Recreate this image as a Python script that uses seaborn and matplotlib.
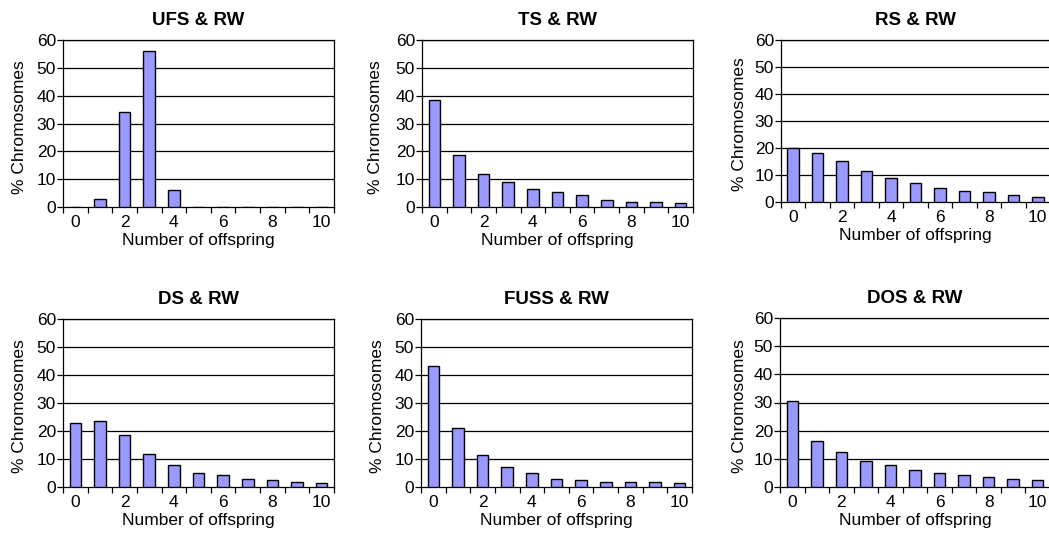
import pandas as pd
import matplotlib
matplotlib.use('Agg')
import matplotlib.pyplot as plt
import seaborn as sns

offspring = list(range(11))

titles = ['UFS & RW', 'TS & RW', 'RS & RW', 'DS & RW', 'FUSS & RW', 'DOS & RW']

ufs = [0, 3, 34, 56, 6, 0, 0, 0, 0, 0, 0]
ts = [38.6, 18.8, 11.8, 8.9, 6.5, 5.3, 4.2, 2.4, 1.9, 1.9, 1.3]
rs = [19.9, 18.1, 15.1, 11.5, 9.0, 7.2, 5.3, 4.2, 3.6, 2.5, 1.9]
ds = [22.8, 23.4, 18.4, 11.8, 7.8, 5.0, 4.2, 3.0, 2.5, 1.9, 1.4]
fuss = [43.2, 20.9, 11.6, 7.0, 4.9, 3.0, 2.5, 1.9, 1.9, 1.9, 1.4]
dos = [30.7, 16.3, 12.3, 9.3, 7.7, 5.9, 4.9, 4.1, 3.6, 3.0, 2.5]

series = [ufs, ts, rs, ds, fuss, dos]

sns.set_theme(style='white')
plt.rcParams['font.family'] = ['Liberation Sans', 'DejaVu Sans']
plt.rcParams['text.color'] = 'black'
plt.rcParams['axes.labelcolor'] = 'black'
plt.rcParams['xtick.color'] = 'black'
plt.rcParams['ytick.color'] = 'black'

W, H = 1049, 536
fig = plt.figure(figsize=(W / 100, H / 100), dpi=100)

# axes boxes in pixels: left, top, right, bottom
boxes = [
    (63, 40, 334, 207),
    (422, 40, 693, 207),
    (781, 40, 1050, 202),
    (63, 319, 334, 487),
    (421, 319, 692, 487),
    (780, 318, 1050, 487),
]
# horizontal centre of each y label, pixels
ylab_x = [20, 376, 739, 20, 378, 739]

for title, vals, (l, t, r, b), yx in zip(titles, series, boxes, ylab_x):
    ax = fig.add_axes([l / W, (H - b) / H, (r - l) / W, (b - t) / H])
    df = pd.DataFrame({'offspring': offspring, 'pct': vals})
    sns.barplot(data=df, x='offspring', y='pct', order=offspring, ax=ax,
                color='#9999FF', saturation=1, width=0.47,
                edgecolor='black', linewidth=1, zorder=3)
    ax.set_xlim(-0.5, 10.5)
    ax.set_ylim(0, 60)
    ax.set_yticks(range(0, 61, 10))
    for yv in range(10, 61, 10):
        ax.axhline(yv, color='black', lw=0.9, zorder=1)
    # labels at even counts, tick marks between categories
    ax.set_xticks(range(0, 11, 2))
    ax.set_xticklabels([str(v) for v in range(0, 11, 2)])
    ax.set_xticks([i - 0.5 for i in range(12)], minor=True)
    ax.tick_params(axis='x', which='major', length=0, labelsize=12.5, pad=6)
    ax.tick_params(axis='x', which='minor', length=4, width=0.9,
                   direction='out', color='black', bottom=True)
    ax.tick_params(axis='y', which='major', length=4, width=0.9,
                   direction='out', color='black', left=True, labelsize=12.5, pad=1)
    for s in ax.spines.values():
        s.set_color('black')
        s.set_linewidth(0.9)
    ax.set_xlabel('Number of offspring', fontsize=12.5, labelpad=2)
    ax.set_ylabel('% Chromosomes', fontsize=12.5, va='center')
    ax.yaxis.set_label_coords((yx - l) / (r - l), 0.48)
    ax.set_title(title, fontsize=13.5, fontweight='bold', pad=11)
    ax.grid(False)

fig.savefig('out.png', dpi=100, facecolor='white')
